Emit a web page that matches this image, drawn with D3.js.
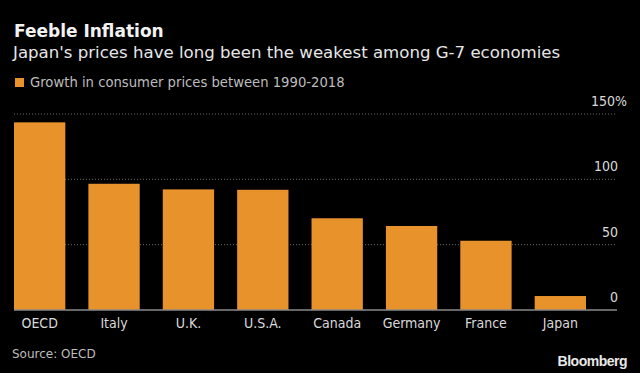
<!DOCTYPE html>
<html>
<head>
<meta charset="utf-8">
<script src="https://cdn.jsdelivr.net/npm/d3@7"></script>
<style>
html, body { margin: 0; padding: 0; background: #000; }
svg { display: block; }
text { font-family: "DejaVu Sans", sans-serif; }
</style>
</head>
<body>
<div id="chart"></div>
<script>
(function() {
"use strict"

var width = 640, height = 373;

// data
var countries = ["OECD", "Italy", "U.K.", "U.S.A.", "Canada", "Germany", "France", "Japan"];
var growth = [143.6, 96.6, 92.3, 92.0, 70.2, 64.3, 53.0, 10.7];
var yTicks = [0, 50, 100, 150];
var yTickLabels = ["0", "50", "100", "150%"];

var orange = "#e8922c";

var svg = d3.select("#chart").append("svg")
    .attr("width", width)
    .attr("height", height)
    .style("background", "#000");

// titles
svg.append("text")
    .attr("x", 14).attr("y", 37)
    .style("font-weight", "bold")
    .style("font-size", "17px")
    .style("fill", "#f2f2f2")
    .text("Feeble Inflation");

svg.append("text")
    .attr("x", 13).attr("y", 58)
    .style("font-size", "16.6px")
    .style("fill", "#e6e6e6")
    .text("Japan's prices have long been the weakest among G-7 economies");

// legend
svg.append("rect")
    .attr("x", 15).attr("y", 78)
    .attr("width", 9).attr("height", 9)
    .style("fill", orange);
svg.append("text")
    .attr("x", 30).attr("y", 87)
    .style("font-size", "13.2px")
    .style("fill", "#bdbdbd")
    .text("Growth in consumer prices between 1990-2018");

// scales
var x = d3.scaleBand()
    .domain(countries)
    .range([14, 586])
    .paddingInner(0.31)
    .paddingOuter(0);

var y = d3.scaleLinear()
    .domain([0, 150])
    .range([310, 114]);

// gridlines
var grid = svg.append("g");
grid.selectAll("line")
    .data(yTicks.filter(function(d) { return d > 0; }))
    .enter().append("line")
    .attr("x1", 14).attr("x2", 617)
    .attr("y1", function(d) { return y(d); })
    .attr("y2", function(d) { return y(d); })
    .style("stroke", "#6a6a6a")
    .style("stroke-width", 1)
    .style("stroke-dasharray", "1,2");

// bars
svg.append("g").selectAll("rect")
    .data(growth)
    .enter().append("rect")
    .attr("x", function(d, i) { return x(countries[i]); })
    .attr("width", x.bandwidth())
    .attr("y", function(d) { return y(d); })
    .attr("height", function(d) { return y(0) - y(d); })
    .style("fill", orange);

// baseline
svg.append("line")
    .attr("x1", 14).attr("x2", 617)
    .attr("y1", y(0)).attr("y2", y(0))
    .style("stroke", "#8a8a8a")
    .style("stroke-width", 1.5);

// y tick labels (right side, above the gridline)
svg.append("g").selectAll("text")
    .data(yTicks)
    .enter().append("text")
    .attr("x", function(d, i) { return yTickLabels[i].indexOf("%") >= 0 ? 627 : 618; })
    .attr("y", function(d) { return y(d) - 8; })
    .style("text-anchor", "end")
    .style("font-family", "'DejaVu Sans Condensed', sans-serif")
    .style("font-size", "14px")
    .style("fill", "#d9d9d9")
    .text(function(d, i) { return yTickLabels[i]; });

// category labels
var xAxis = svg.append("g")
    .attr("transform", "translate(0," + y(0) + ")")
    .call(d3.axisBottom(x).tickSize(0).tickPadding(8));
xAxis.select(".domain").remove();
xAxis.selectAll("text")
    .style("font-family", "'DejaVu Sans Condensed', sans-serif")
    .style("font-size", "14px")
    .style("fill", "#d9d9d9");

// footer
svg.append("text")
    .attr("x", 12).attr("y", 358)
    .style("font-size", "12px")
    .style("fill", "#bdbdbd")
    .text("Source: OECD");

svg.append("text")
    .attr("x", 627).attr("y", 366)
    .style("text-anchor", "end")
    .style("font-family", "'Liberation Sans', Arial, sans-serif")
    .style("font-weight", "bold")
    .style("font-size", "14px")
    .style("letter-spacing", "-0.5px")
    .style("fill", "#e8e8e8")
    .text("Bloomberg");
})();
</script>
</body>
</html>
